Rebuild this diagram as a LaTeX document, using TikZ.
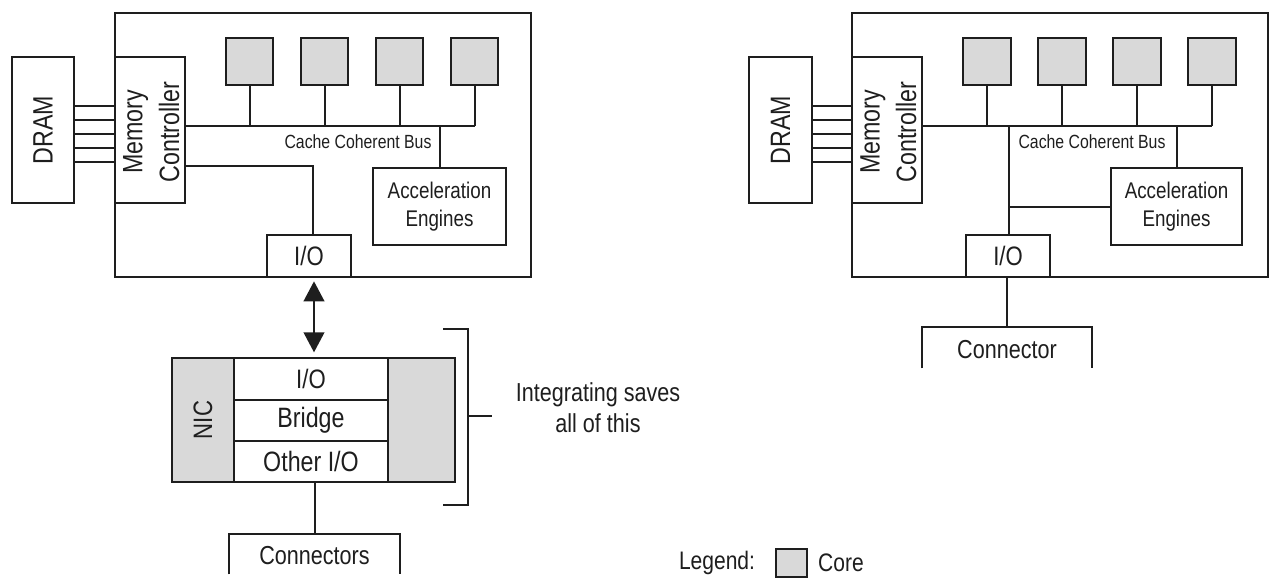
\documentclass[tikz,border=0pt]{standalone}
\usepackage{fontspec}
\setmainfont{Liberation Sans}[FakeStretch=0.83]
\usetikzlibrary{fit,arrows.meta}
\definecolor{ln}{HTML}{1E1E1E}
\definecolor{coregray}{HTML}{D9D9D9}
\begin{document}
\begin{tikzpicture}[x=0.75pt,y=-0.75pt,
  box/.style={draw=ln, line width=1.5pt, inner sep=0pt, fill=white},
  core/.style={box, fill=coregray},
  wire/.style={draw=ln, line width=1.5pt},
  txt/.style={inner sep=0pt, text=ln},
  fA/.style={font=\fontsize{21}{27.5}\selectfont},
  fIO/.style={font=\fontsize{20}{24}\selectfont},
  fAcc/.style={font=\fontsize{17}{21}\selectfont, align=center},
  fBus/.style={font=\fontsize{14.3}{17}\selectfont},
  fC/.style={font=\fontsize{19.5}{23}\selectfont},
  biarrow/.style={wire, {Triangle[length=15pt,width=15.5pt]}-{Triangle[length=15pt,width=15.5pt]}}
]
\useasboundingbox (0,0) rectangle (1270,579);

% ================= LEFT =================
\node[box, fill=none, fit={(115,13) (531,277)}] (chipL) {};
\node[box, fit={(12,57) (74,203)}] (dramL) {};
\node[txt, fA, rotate=90] (dramLt) at (dramL.center) {DRAM};
\node[box, fit={(115,57) (185,203)}] (mcL) {};
\node[txt, fA, rotate=90, align=center] (mcLt) at ([xshift=1pt,yshift=-1.5pt]mcL.center) {Memory\\Controller};
\foreach \y in {106,120,134,148,162}
  \draw[wire] (dramL.east |- 0,\y) -- (mcL.west |- 0,\y);

\foreach \i/\x in {1/226,2/301,3/376,4/451}
  \node[core, fit={(\x,38) (\x+47,85)}] (cL\i) {};
\coordinate (busL) at (cL4.south |- 0,126);
\draw[wire] (mcL.east |- busL) -- (busL);
\foreach \i in {1,...,4}
  \draw[wire] (cL\i.south) -- (cL\i.south |- busL);
\node[txt, fBus] (busLt) at (358,142) {Cache Coherent Bus};

\node[box, fit={(373,168) (506,245)}] (accL) {};
\node[txt, fAcc] (accLt) at (accL.center) {Acceleration\\Engines};
\draw[wire] (accL.north |- busL) -- (accL.north);

\node[box, fit={(267,235) (351,277)}] (ioL) {};
\node[txt, fIO] (ioLt) at (ioL.center) {I/O};
\coordinate (mioL) at (313,166);
\draw[wire] (mcL.east |- mioL) -| (mioL |- ioL.north);

% NIC
\node[box, fill=coregray, fit={(172,358) (455,482)}] (nic) {};
\node[box, fit={(234,358) (388,400)}] (nicio) {};
\node[txt, fIO] (nicioT) at (nicio.center) {I/O};
\node[box, fit={(234,400) (388,441)}] (bridge) {};
\node[txt, fA] (bridgeT) at (bridge.center) {Bridge};
\node[box, fit={(234,441) (388,482)}] (otherio) {};
\node[txt, fA] (otherioT) at (otherio.center) {Other I/O};
\node[txt, fIO, rotate=90] (nict) at (203,420) {NIC};

\coordinate (arrL) at (314,0);
\draw[biarrow, shorten <=2.5pt, shorten >=3.5pt] (ioL.south -| arrL) -- (nic.north -| arrL);

% connectors
\node[inner sep=0pt, fit={(229,534) (400,574)}] (conL) {};
\node[txt, fC] (conLt) at ([yshift=-1.5pt]conL.center) {Connectors};
\draw[wire] (nic.south -| conL.north) -- (conL.north);
\draw[wire] (conL.south west) |- (conL.north) -| (conL.south east);

% bracket
\coordinate (brT) at (443,329);
\coordinate (brB) at (443,505);
\coordinate (brM) at (468,416);
\draw[wire] (brT) -| (brM |- brB) -- (brB);
\draw[wire] (brM) -- ++(24,0) coordinate (brE);
\node[txt, fC, align=center] (savet) at (598,408) {Integrating saves\\all of this};

% ================= RIGHT =================
\node[box, fill=none, fit={(852,13) (1268,277)}] (chipR) {};
\node[box, fit={(749,57) (812,203)}] (dramR) {};
\node[txt, fA, rotate=90] (dramRt) at (dramR.center) {DRAM};
\node[box, fit={(852,57) (922,203)}] (mcR) {};
\node[txt, fA, rotate=90, align=center] (mcRt) at ([xshift=1pt,yshift=-1.5pt]mcR.center) {Memory\\Controller};
\foreach \y in {106,120,134,148,162}
  \draw[wire] (dramR.east |- 0,\y) -- (mcR.west |- 0,\y);

\foreach \i/\x in {1/963,2/1038,3/1113,4/1188}
  \node[core, fit={(\x,38) (\x+48,85)}] (cR\i) {};
\coordinate (busR) at (cR4.south |- 0,126);
\draw[wire] (mcR.east |- busR) -- (busR);
\foreach \i in {1,...,4}
  \draw[wire] (cR\i.south) -- (cR\i.south |- busR);
\node[txt, fBus] (busRt) at (1092,142) {Cache Coherent Bus};

\node[box, fit={(1111,168) (1242,245)}] (accR) {};
\node[txt, fAcc] (accRt) at (accR.center) {Acceleration\\Engines};
\draw[wire] (accR.north |- busR) -- (accR.north);

\node[box, fit={(966,235) (1050,277)}] (ioR) {};
\node[txt, fIO] (ioRt) at (ioR.center) {I/O};
\coordinate (vR) at (1009,126);
\draw[wire] (vR) -- (vR |- ioR.north);
\draw[wire] (vR |- accR.west) -- (accR.west);

\node[inner sep=0pt, fit={(922,327) (1092,368)}] (conR) {};
\node[txt, fC] (conRt) at ([yshift=-1.5pt]conR.center) {Connector};
\draw[wire] (ioR.south -| conR.north) -- (conR.north);
\draw[wire] (conR.south west) |- (conR.north) -| (conR.south east);

% ================= LEGEND =================
\node[txt, font=\fontsize{19}{23}\selectfont] (legt) at (717,563) {Legend:};
\node[core, fit={(776,549) (807,577)}] (legbox) {};
\node[txt, font=\fontsize{19}{23}\selectfont] (legcore) at (841,563) {Core};
\end{tikzpicture}
\end{document}
